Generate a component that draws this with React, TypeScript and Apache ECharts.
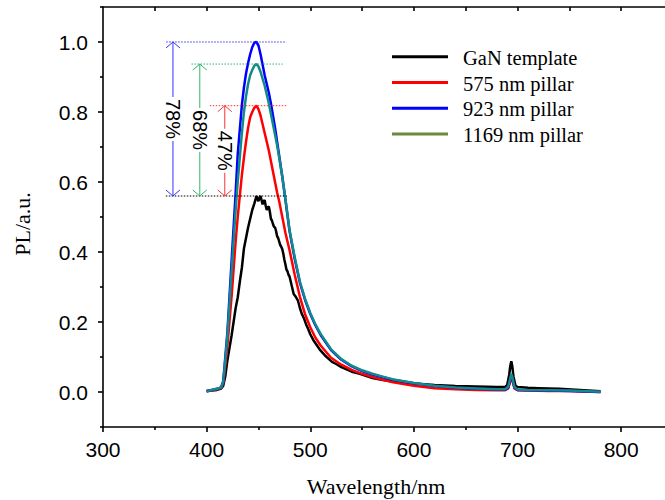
import React, { useEffect, useRef } from 'react';
import * as echarts from 'echarts';

// ---------- data ----------
const wavelengths = [400, 405, 410, 414, 416, 418, 420, 422, 424, 426, 428, 430, 432, 434, 436, 438, 440, 442, 444, 446, 448, 450, 452, 454, 456, 458, 460, 462, 464, 466, 468, 470, 473, 476, 480, 485, 490, 495, 500, 505, 510, 520, 530, 540, 550, 560, 570, 580, 600, 620, 640, 660, 680, 688, 691, 693, 694, 695, 697, 700, 710, 730, 750, 780];

const pillar575 = [0.002, 0.005, 0.008, 0.012, 0.025, 0.075, 0.13, 0.2, 0.27, 0.35, 0.43, 0.5, 0.56, 0.62, 0.67, 0.715, 0.755, 0.785, 0.8, 0.812, 0.818, 0.808, 0.79, 0.765, 0.74, 0.715, 0.69, 0.66, 0.63, 0.6, 0.57, 0.545, 0.5, 0.455, 0.405, 0.335, 0.272, 0.222, 0.185, 0.155, 0.133, 0.098, 0.078, 0.063, 0.052, 0.043, 0.035, 0.028, 0.018, 0.011, 0.008, 0.006, 0.005, 0.005, 0.01, 0.03, 0.042, 0.033, 0.01, 0.005, 0.004, 0.003, 0.003, 0.0];

const pillar923 = [0.003, 0.006, 0.009, 0.013, 0.03, 0.1, 0.17, 0.27, 0.37, 0.47, 0.57, 0.68, 0.75, 0.82, 0.87, 0.91, 0.94, 0.965, 0.985, 0.998, 1.0, 0.99, 0.965, 0.935, 0.905, 0.88, 0.855, 0.825, 0.79, 0.755, 0.715, 0.675, 0.615, 0.55, 0.46, 0.38, 0.312, 0.263, 0.223, 0.19, 0.163, 0.12, 0.092, 0.073, 0.06, 0.05, 0.042, 0.035, 0.025, 0.017, 0.012, 0.009, 0.007, 0.007, 0.012, 0.035, 0.048, 0.04, 0.012, 0.006, 0.005, 0.004, 0.003, 0.0];

const pillar1169 = [0.003, 0.006, 0.009, 0.013, 0.03, 0.09, 0.16, 0.25, 0.34, 0.43, 0.52, 0.6, 0.67, 0.74, 0.8, 0.845, 0.88, 0.905, 0.92, 0.932, 0.937, 0.93, 0.915, 0.895, 0.875, 0.85, 0.825, 0.795, 0.765, 0.735, 0.705, 0.67, 0.615, 0.552, 0.462, 0.385, 0.315, 0.266, 0.226, 0.193, 0.166, 0.122, 0.094, 0.075, 0.062, 0.052, 0.044, 0.036, 0.026, 0.018, 0.013, 0.01, 0.008, 0.008, 0.015, 0.04, 0.052, 0.042, 0.014, 0.007, 0.006, 0.005, 0.004, 0.001];

const ganWavelengths = [400, 405, 410, 414, 416, 418, 420, 422, 424, 426, 428, 430, 432, 434, 436, 438, 440, 442, 444, 446, 447, 448, 449, 450, 451, 452, 453, 454, 455, 456, 457, 458, 459, 460, 461, 462, 463, 464, 465, 466, 467, 468, 469, 470, 471, 472, 473, 474, 475, 476, 477, 478, 479, 480, 482, 484, 486, 488, 490, 492, 494, 496, 498, 500, 503, 506, 509, 512, 515, 518, 521, 525, 530, 535, 540, 545, 550, 560, 570, 580, 590, 600, 620, 640, 660, 680, 688, 690, 692, 693, 694, 695, 696, 698, 700, 710, 720, 740, 760, 780];

const ganTemplate = [0.002, 0.004, 0.006, 0.01, 0.018, 0.045, 0.09, 0.125, 0.16, 0.2, 0.24, 0.27, 0.315, 0.355, 0.41, 0.44, 0.47, 0.495, 0.52, 0.538, 0.548, 0.56, 0.552, 0.545, 0.555, 0.56, 0.548, 0.536, 0.545, 0.548, 0.532, 0.52, 0.528, 0.53, 0.515, 0.495, 0.49, 0.48, 0.472, 0.47, 0.46, 0.445, 0.44, 0.43, 0.42, 0.415, 0.408, 0.395, 0.378, 0.365, 0.35, 0.345, 0.335, 0.33, 0.305, 0.28, 0.272, 0.262, 0.24, 0.222, 0.21, 0.193, 0.18, 0.165, 0.148, 0.135, 0.122, 0.112, 0.102, 0.094, 0.086, 0.08, 0.071, 0.065, 0.058, 0.054, 0.05, 0.04, 0.034, 0.03, 0.027, 0.024, 0.02, 0.017, 0.016, 0.014, 0.014, 0.02, 0.05, 0.075, 0.088, 0.072, 0.045, 0.018, 0.014, 0.012, 0.011, 0.009, 0.006, 0.002];

const seriesNames = ['GaN template', '575 nm pillar', '923 nm pillar', '1169 nm pillar'];
const seriesColors = ['#000000', '#ff0000', '#0000ff', '#138a8a'];
const legendColors = ['#000000', '#ff0000', '#0000ff', '#6b8a3e'];

const xMajorTicks = [300, 400, 500, 600, 700, 800];
const xMinorTicks = [350, 450, 550, 650, 750];
const xTopTicks = [350, 400, 450, 500, 550, 600, 650, 700, 750, 800];
const yMajorTicks = [0, 0.2, 0.4, 0.6, 0.8, 1.0];
const yMinorTicks = [-0.1, 0.1, 0.3, 0.5, 0.7, 0.9, 1.1];

// enhancement annotations
const enhancementLabels = ['78%', '68%', '47%'];
const enhancementPeaks = [1.0, 0.937, 0.818];
const arrowWavelengths = [367.5, 393.4, 417.5];
const peakLineStarts = [361, 385.4, 403];
const peakLineEnds = [477, 473.5, 477.4];
const annotationColors = ['#3333ff', '#33b36b', '#ff3333'];
const baseLevel = 0.56;
const baseLineRange = [360.6, 477.4];

const SANS = '"Liberation Sans", Arial, sans-serif';
const SERIF = '"Liberation Serif", "Times New Roman", serif';

export default function App() {
  const ref = useRef<HTMLDivElement>(null);

  useEffect(() => {
    if (!ref.current) return;
    const chart = echarts.init(ref.current, undefined, { renderer: 'svg' });

    const seriesData = [
      ganWavelengths.map((w, i) => [w, ganTemplate[i]]),
      wavelengths.map((w, i) => [w, pillar575[i]]),
      wavelengths.map((w, i) => [w, pillar923[i]]),
      wavelengths.map((w, i) => [w, pillar1169[i]]),
    ];

    const axisLineStyle = { color: '#000', width: 1.6 };

    const option: any = {
      animation: false,
      grid: {
        left: 103, top: 7, width: 570, height: 420,
        containLabel: false, outerBoundsMode: 'none',
      },
      xAxis: [
        {
          type: 'value', min: 300, max: 850, position: 'bottom',
          axisLine: { show: true, onZero: false, lineStyle: axisLineStyle },
          axisTick: { show: true, customValues: xMajorTicks, length: 5, lineStyle: axisLineStyle },
          axisLabel: {
            show: true, customValues: xMajorTicks, color: '#000', fontSize: 21,
            fontFamily: SANS, margin: 12,
          },
          splitLine: { show: false },
        },
        {
          type: 'value', min: 300, max: 850, position: 'bottom',
          axisLine: { show: false, onZero: false },
          axisTick: { show: true, customValues: xMinorTicks, length: 3, lineStyle: axisLineStyle },
          axisLabel: { show: false },
          splitLine: { show: false },
        },
        {
          type: 'value', min: 300, max: 850, position: 'top',
          axisLine: { show: true, onZero: false, lineStyle: axisLineStyle },
          axisTick: { show: true, inside: true, customValues: xTopTicks, length: 4, lineStyle: axisLineStyle },
          axisLabel: { show: false },
          splitLine: { show: false },
        },
      ],
      yAxis: [
        {
          type: 'value', min: -0.1, max: 1.1, position: 'left',
          axisLine: { show: true, onZero: false, lineStyle: axisLineStyle },
          axisTick: { show: true, customValues: yMajorTicks, length: 5, lineStyle: axisLineStyle },
          axisLabel: {
            show: true, customValues: yMajorTicks, color: '#000', fontSize: 21,
            fontFamily: SANS, margin: 15,
            formatter: (v: number) => v.toFixed(1),
          },
          splitLine: { show: false },
        },
        {
          type: 'value', min: -0.1, max: 1.1, position: 'left',
          axisLine: { show: false, onZero: false },
          axisTick: { show: true, customValues: yMinorTicks, length: 3, lineStyle: axisLineStyle },
          axisLabel: { show: false },
          splitLine: { show: false },
        },
      ],
      series: seriesNames.map((name, i) => ({
        name,
        type: 'line',
        xAxisIndex: 0,
        yAxisIndex: 0,
        data: seriesData[i],
        showSymbol: false,
        symbol: 'none',
        lineStyle: { color: seriesColors[i], width: 2.5 },
        itemStyle: { color: seriesColors[i] },
        z: 2 + i,
      })),
    };

    chart.setOption(option);

    const px = (x: number, y: number) =>
      chart.convertToPixel({ xAxisIndex: 0, yAxisIndex: 0 }, [x, y]) as number[];

    const graphics: any[] = [];

    const b0 = px(baseLineRange[0], baseLevel);
    const b1 = px(baseLineRange[1], baseLevel);
    graphics.push({
      type: 'line', z: 50,
      shape: { x1: b0[0], y1: b0[1], x2: b1[0], y2: b1[1] },
      style: { stroke: '#000', lineWidth: 1, lineDash: [1.5, 1.5] },
    });

    enhancementLabels.forEach((label, i) => {
      const color = annotationColors[i];
      const top = enhancementPeaks[i];
      const l0 = px(peakLineStarts[i], top);
      const l1 = px(peakLineEnds[i], top);
      graphics.push({
        type: 'line', z: 50,
        shape: { x1: l0[0], y1: l0[1], x2: l1[0], y2: l1[1] },
        style: { stroke: color, lineWidth: 1, lineDash: [1.5, 1.5] },
      });
      const aTop = px(arrowWavelengths[i], top);
      const aBot = px(arrowWavelengths[i], baseLevel);
      graphics.push({
        type: 'line', z: 50,
        shape: { x1: aTop[0], y1: aTop[1], x2: aBot[0], y2: aBot[1] },
        style: { stroke: color, lineWidth: 1 },
      });
      graphics.push({
        type: 'polyline', z: 50,
        shape: { points: [[aTop[0] - 7, aTop[1] + 6], [aTop[0], aTop[1]], [aTop[0] + 7, aTop[1] + 6]] },
        style: { stroke: color, lineWidth: 1, fill: null },
      });
      graphics.push({
        type: 'polyline', z: 50,
        shape: { points: [[aBot[0] - 7, aBot[1] - 6], [aBot[0], aBot[1]], [aBot[0] + 7, aBot[1] - 6]] },
        style: { stroke: color, lineWidth: 1, fill: null },
      });
      const mid = px(arrowWavelengths[i], (top + baseLevel) / 2);
      graphics.push({
        type: 'text', z: 51,
        x: mid[0], y: mid[1], rotation: -Math.PI / 2,
        style: {
          text: label, font: `20px ${SANS}`, fill: '#000',
          align: 'center', verticalAlign: 'middle',
          backgroundColor: '#fff', padding: [0, 2],
        },
      });
    });

    // legend
    const legendTop = 56.7;
    const legendStep = 25.8;
    seriesNames.forEach((name, i) => {
      const y = legendTop + i * legendStep;
      graphics.push({
        type: 'line', z: 60,
        shape: { x1: 392, y1: y, x2: 448, y2: y },
        style: { stroke: legendColors[i], lineWidth: 3 },
      });
      graphics.push({
        type: 'text', z: 60,
        x: 463, y: y + 1,
        style: {
          text: name, font: `20.5px ${SERIF}`, fill: '#000',
          align: 'left', verticalAlign: 'middle',
        },
      });
    });

    // axis titles
    graphics.push({
      type: 'text', z: 60, x: 376, y: 486,
      style: { text: 'Wavelength/nm', font: `22px ${SERIF}`, fill: '#000', align: 'center', verticalAlign: 'middle' },
    });
    graphics.push({
      type: 'text', z: 60, x: 22, y: 224, rotation: Math.PI / 2,
      style: { text: 'PL/a.u.', font: `22px ${SERIF}`, fill: '#000', align: 'center', verticalAlign: 'middle' },
    });

    chart.setOption({ graphic: graphics });

    return () => chart.dispose();
  }, []);

  return <div ref={ref} style={{ width: 665, height: 500, position: 'absolute', left: 0, top: 0 }} />;
}
